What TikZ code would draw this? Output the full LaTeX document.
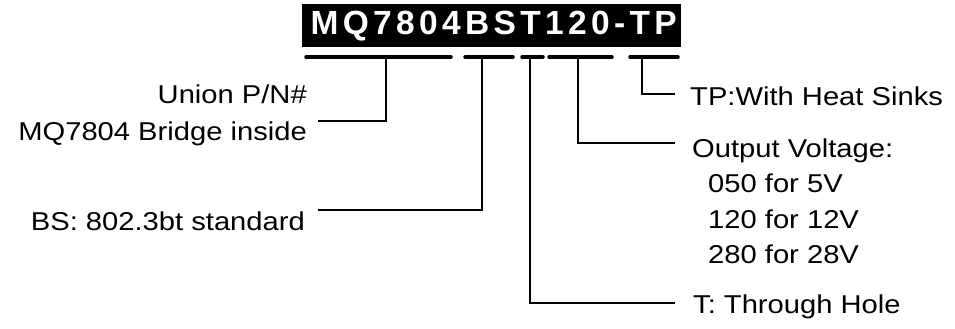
\documentclass[tikz,border=0pt]{standalone}
\usepackage{fontspec}
\newfontfamily\lblfont{Liberation Sans}[FakeStretch=1.13]
\newfontfamily\ttlfont{Liberation Sans}[LetterSpace=13]
\begin{document}
\begin{tikzpicture}[x=1pt,y=-1pt,
  lbl/.style={inner sep=0pt,font=\lblfont\fontsize{25.8}{36}\selectfont},
  uline/.style={line width=3.5pt,line cap=round},
  conn/.style={line width=2pt}]
\useasboundingbox (0,0) rectangle (955,329);
% title
\node[fill=black,text=white,inner sep=0pt,minimum width=379pt,minimum height=43pt,anchor=north west,
  font=\ttlfont\bfseries\fontsize{33.5}{36}\selectfont] (title) at (302,4) {\hspace*{4pt}MQ7804BST120-TP};
% underline segments
\coordinate (u1a) at (306,57); \coordinate (u1b) at (451,57);
\coordinate (u2a) at (465,57); \coordinate (u2b) at (513,57);
\coordinate (u3a) at (522,57); \coordinate (u3b) at (543,57);
\coordinate (u4a) at (549,57); \coordinate (u4b) at (612,57);
\coordinate (u5a) at (630,57); \coordinate (u5b) at (678,57);
\foreach \i in {1,...,5} \draw[uline] (u\i a) -- (u\i b);
% tick points
\coordinate (t1) at (386,57);
\coordinate (t2) at (482,57);
\coordinate (t3) at (530,57);
\coordinate (t4) at (578,57);
\coordinate (t5) at (642,57);
% connector ends
\coordinate (e1) at (318,121);
\coordinate (e2) at (318,210);
\coordinate (e3) at (675,303);
\coordinate (e4) at (675,143);
\coordinate (e5) at (675,94);
% labels
\node[lbl,anchor=base east] (union) at (307,103) {Union P/N\#};
\node[lbl,anchor=base east] (bridge) at (307,140) {MQ7804 Bridge inside};
\node[lbl,anchor=base east] (bs) at (305,230) {BS: 802.3bt standard};
\node[lbl,anchor=base west] (tp) at (690,105) {TP:With Heat Sinks};
\node[lbl,anchor=base west] (ov) at (692,157) {Output Voltage:};
\node[lbl,anchor=base west] (v1) at (708,192) {050 for 5V};
\node[lbl,anchor=base west] (v2) at (708,228) {120 for 12V};
\node[lbl,anchor=base west] (v3) at (708,263) {280 for 28V};
\node[lbl,anchor=base west] (th) at (693,313) {T: Through Hole};
% connectors
\draw[conn] (t1) |- (e1);
\draw[conn] (t2) |- (e2);
\draw[conn] (t3) |- (e3);
\draw[conn] (t4) |- (e4);
\draw[conn] (t5) |- (e5);
\end{tikzpicture}
\end{document}
